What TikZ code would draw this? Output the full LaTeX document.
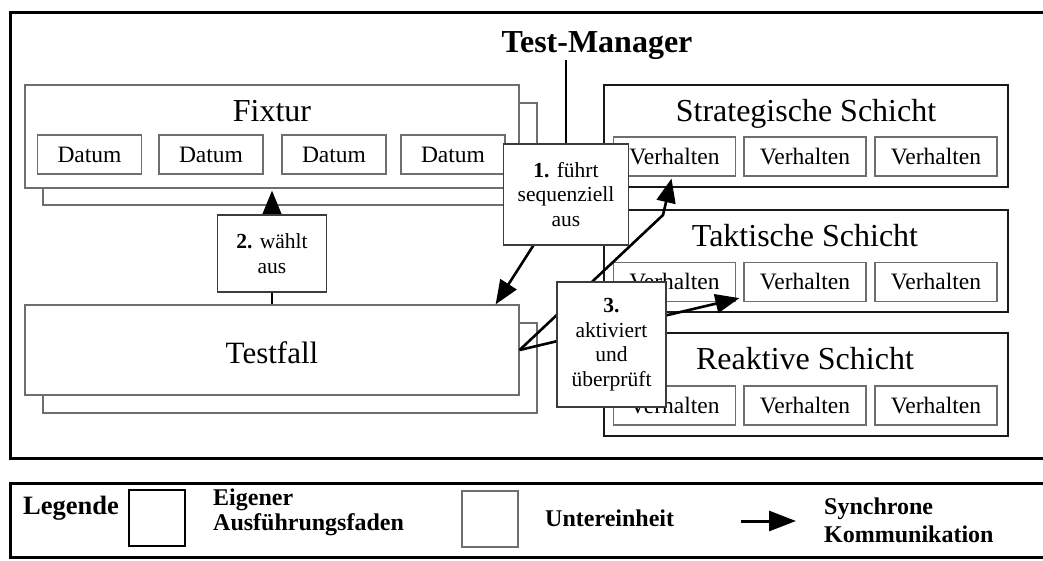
\documentclass[tikz,border=0pt]{standalone}
\usepackage{fontspec}
\setmainfont{Liberation Serif}
\usetikzlibrary{arrows.meta,calc}
\definecolor{subgray}{RGB}{110,110,110}
\definecolor{labelgray}{RGB}{60,60,60}
\pgfdeclarelayer{top}
\pgfsetlayers{main,top}

\begin{document}
\begin{tikzpicture}[x=1pt,y=-1pt,
  frame/.style={draw=black,line width=3pt},
  unitbox/.style={draw=subgray,line width=1.2pt,fill=white,inner sep=0pt},
  layerbox/.style={draw=black!90,line width=1.3pt,fill=white,inner sep=0pt},
  labelbox/.style={draw=labelgray,line width=1.2pt,fill=white,align=center,
    inner sep=0pt,font=\fontsize{21.5}{24.5}\selectfont},
  title/.style={font=\fontsize{32}{36}\selectfont,anchor=base,inner sep=0pt},
  item/.style={unitbox,minimum height=39,font=\fontsize{23.5}{27}\selectfont},
  datum/.style={item,minimum width=104},
  behav/.style={item,minimum width=122},
  link/.style={line width=2.6pt,line join=round},
  arrow/.style={link,-{Triangle[length=24pt,width=19pt]}},
  legendtext/.style={inner sep=0pt,font=\bfseries\fontsize{24}{25}\selectfont}
]
\useasboundingbox (0,0) rectangle (1043,561);
\clip (0,0) rectangle (1043,561);

% outer frame of the system
\draw[frame] (10,13) rectangle (1062,458);

% fixture (stacked)
\node[unitbox,minimum width=494,minimum height=102] (fixback) at (290,154) {};
\node[unitbox,minimum width=494,minimum height=103] (fix) at (272,136.5) {};
\node[title] (fixtitle) at (272,122) {Fixtur};
\node[datum] (d1) at (89.5,154.5) {Datum};
\node[datum] (d2) at (211,154.5) {Datum};
\node[datum] (d3) at (334,154.5) {Datum};
\node[datum] (d4) at (453,154.5) {Datum};

% test case (stacked)
\node[unitbox,minimum width=494,minimum height=90] (tfback) at (290,368) {};
\node[unitbox,minimum width=494,minimum height=90] (tf) at (272,350) {};
\node[title,font=\fontsize{31}{36}\selectfont] (tftitle) at (272,363) {Testfall};

% behaviour layers
\node[layerbox,minimum width=404,minimum height=102] (strat) at (806,136) {};
\node[title] (strattitle) at (806,122) {Strategische Schicht};
\node[behav] (v11) at (674.5,156.5) {Verhalten};
\node[behav] (v12) at (805,156.5) {Verhalten};
\node[behav] (v13) at (936,156.5) {Verhalten};

\node[layerbox,minimum width=404,minimum height=102] (takt) at (806,261) {};
\node[title] (takttitle) at (805,247) {Taktische Schicht};
\node[behav] (v21) at (674.5,282) {Verhalten};
\node[behav] (v22) at (805,282) {Verhalten};
\node[behav] (v23) at (936,282) {Verhalten};

\node[layerbox,minimum width=404,minimum height=103] (reak) at (806,384.5) {};
\node[title] (reaktitle) at (805,369) {Reaktive Schicht};
\node[behav] (v31) at (674.5,405.5) {Verhalten};
\node[behav] (v32) at (805,405.5) {Verhalten};
\node[behav] (v33) at (936,405.5) {Verhalten};

% test manager
\node[font=\fontsize{32}{36}\selectfont\bfseries,anchor=base,inner sep=0pt] (tm) at (597,53) {Test-Manager};
\coordinate (tmfoot) at (566,60);

% step labels on top
\begin{pgfonlayer}{top}
\node[labelbox,minimum width=125,minimum height=101] (lbl1) at (566,194.5)
  {\textbf{1.} führt\\sequenziell\\aus};
\node[labelbox,minimum width=109,minimum height=77] (lbl2) at (272,253.5)
  {\textbf{2.} wählt\\aus};
\node[labelbox,minimum width=109,minimum height=125] (lbl3) at (611.5,344.5)
  {\textbf{3.}\\aktiviert\\und\\überprüft};
\end{pgfonlayer}

% connectors
\coordinate (tfin) at ($(tf.north east)+(-24,0)$);
\coordinate (kink) at (663,215);
\coordinate (tipA) at ($(v11.south)+(-3,2)$);
\coordinate (tipB) at ($(v22.south west)+(-4,-4)$);

\draw[line width=2.2pt] (lbl1.north) -- (tmfoot);
\draw[arrow] (lbl1) -- (tfin);
\draw[line width=2.5pt] (lbl2.south) -- (tf.north);
\draw[arrow,shorten >=2pt] (lbl2.north) -- (fix.south);
\draw[arrow] (tf.east) -- (kink) -- (tipA);
\draw[arrow] (tf.east) -- (tipB);

% legend
\draw[frame] (10,483) rectangle (1062,557);
\node[legendtext,font=\bfseries\fontsize{26.5}{28}\selectfont,anchor=base west] (legtitle) at (23,514.5) {Legende};
\node[draw=black,line width=2.5pt,minimum width=56,minimum height=56,inner sep=0pt] (legthread) at (157,518) {};
\node[legendtext,align=left,anchor=west] (legthreadtxt) at (213,512) {Eigener\\Ausführungsfaden};
\node[unitbox,minimum width=56,minimum height=56] (legunit) at (490,519) {};
\node[legendtext,anchor=base west] (legunittxt) at (545,526) {Untereinheit};
\coordinate (legfrom) at (741,521);
\coordinate (legto) at (796,521);
\draw[line width=3pt,-{Triangle[length=27pt,width=20pt]}] (legfrom) -- (legto);
\node[legendtext,align=left,anchor=west] (legsynctxt) at (824,520) {Synchrone\\[3pt]Kommunikation};
\end{tikzpicture}
\end{document}
